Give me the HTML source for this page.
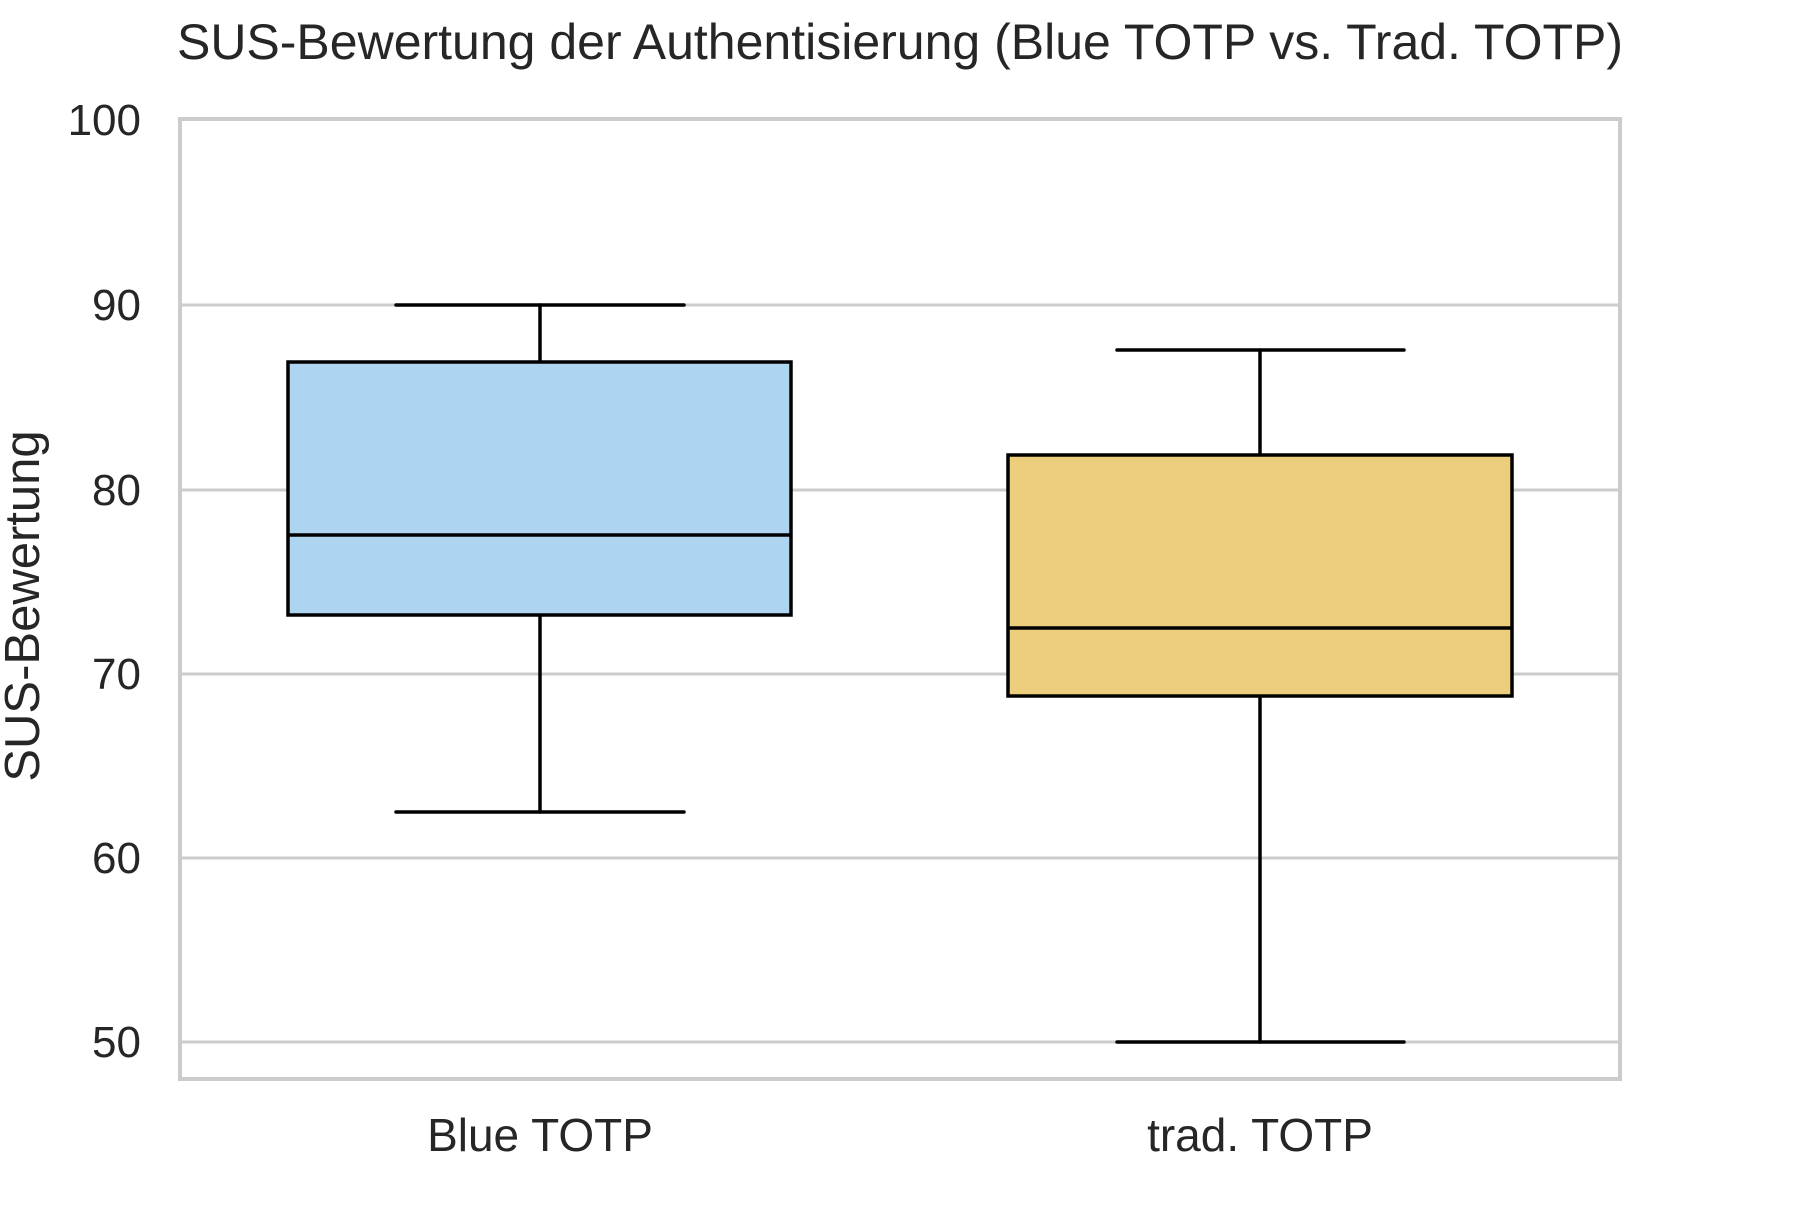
<!DOCTYPE html>
<html><head><meta charset="utf-8"><style>html,body{margin:0;padding:0;background:#fff}</style></head>
<body>
<svg width="1800" height="1200" viewBox="0 0 1800 1200" xmlns="http://www.w3.org/2000/svg" font-family="Liberation Sans, Arial, sans-serif" fill="#262626">
<rect width="1800" height="1200" fill="#fff"/>
<g stroke="#cccccc" stroke-width="3">
<line x1="180" y1="305" x2="1620" y2="305"/>
<line x1="180" y1="490" x2="1620" y2="490"/>
<line x1="180" y1="674" x2="1620" y2="674"/>
<line x1="180" y1="858" x2="1620" y2="858"/>
<line x1="180" y1="1042" x2="1620" y2="1042"/>
<rect x="180" y="119" width="1440" height="960" fill="none" stroke-width="4"/>
</g>
<g stroke="#000" stroke-width="3.5" stroke-linecap="round">
<line x1="540" y1="305" x2="540" y2="362"/>
<line x1="540" y1="615" x2="540" y2="812"/>
<line x1="396" y1="305" x2="684" y2="305"/>
<line x1="396" y1="812" x2="684" y2="812"/>
<rect x="288" y="362" width="503" height="253" fill="#aed5ef" stroke-linecap="butt"/>
<line x1="288" y1="535" x2="791" y2="535" stroke-linecap="butt"/>
<line x1="1260" y1="350" x2="1260" y2="455"/>
<line x1="1260" y1="696" x2="1260" y2="1042"/>
<line x1="1117" y1="350" x2="1404" y2="350"/>
<line x1="1117" y1="1042" x2="1404" y2="1042"/>
<rect x="1008" y="455" width="504" height="241" fill="#ebcd7b" stroke-linecap="butt"/>
<line x1="1008" y1="628" x2="1512" y2="628" stroke-linecap="butt"/>
</g>
<text x="900" y="59" font-size="50" text-anchor="middle">SUS-Bewertung der Authentisierung (Blue TOTP vs. Trad. TOTP)</text>
<g font-size="44" text-anchor="end">
<text x="141" y="135">100</text>
<text x="141" y="320">90</text>
<text x="141" y="505">80</text>
<text x="141" y="689">70</text>
<text x="141" y="873">60</text>
<text x="141" y="1057">50</text>
</g>
<g font-size="46" text-anchor="middle">
<text x="540" y="1151">Blue TOTP</text>
<text x="1260" y="1151">trad. TOTP</text>
</g>
<text transform="translate(39,606) rotate(-90)" font-size="49" text-anchor="middle">SUS-Bewertung</text>
</svg>
</body></html>
